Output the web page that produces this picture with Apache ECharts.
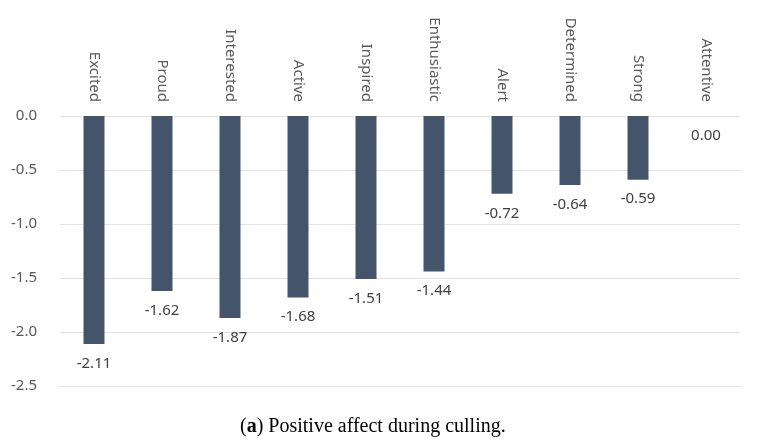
<!DOCTYPE html>
<html><head><meta charset="utf-8">
<script src="https://cdn.jsdelivr.net/npm/echarts@6/dist/echarts.min.js"></script>
<style>html,body{margin:0;padding:0;background:#fff}#c{width:757px;height:448px}</style>
</head><body><div id="c"></div>
<script>
var categories = ["Excited","Proud","Interested","Active","Inspired","Enthusiastic","Alert","Determined","Strong","Attentive"];
var values = [-2.11,-1.62,-1.87,-1.68,-1.51,-1.44,-0.72,-0.64,-0.59,0.00];
var yTicks = {min:-2.5, max:0, interval:0.5};
var caption = "Positive affect during culling.";

var chart = echarts.init(document.getElementById('c'), null, {renderer:'canvas'});
chart.setOption({
  animation:false,
  backgroundColor:'#fff',
  title:{
    text:'{p|(}{b|a}{p|) ' + caption + '}',
    left:235, top:412,
    textStyle:{fontWeight:'normal', rich:{
      p:{fontFamily:'Liberation Serif', fontSize:20, fontWeight:'normal', color:'#000'},
      b:{fontFamily:'Liberation Serif', fontSize:20, fontWeight:'bold', color:'#000'}
    }}
  },
  grid:{left:60, right:17, top:116, bottom:62, containLabel:false},
  xAxis:{
    type:'category', data:categories, position:'top',
    axisLine:{show:false}, axisTick:{show:false},
    axisLabel:{rotate:-90, interval:0, margin:14, color:'#595959', fontFamily:'Noto Sans', fontSize:15}
  },
  yAxis:{
    type:'value', min:yTicks.min, max:yTicks.max, interval:yTicks.interval,
    axisLine:{show:false}, axisTick:{show:false},
    splitLine:{lineStyle:{color:'#e3e3e3', width:1}},
    axisLabel:{formatter:function(v){return v.toFixed(1);}, color:'#595959', fontFamily:'Noto Sans', fontSize:15, margin:23}
  },
  series:[{
    type:'bar', data:values, barWidth:21,
    itemStyle:{color:'#44546A'},
    label:{show:true, position:'bottom', distance:12, color:'#404040', fontFamily:'Noto Sans', fontSize:15,
      formatter:function(p){return p.value.toFixed(2);}}
  }]
});
</script></body></html>
